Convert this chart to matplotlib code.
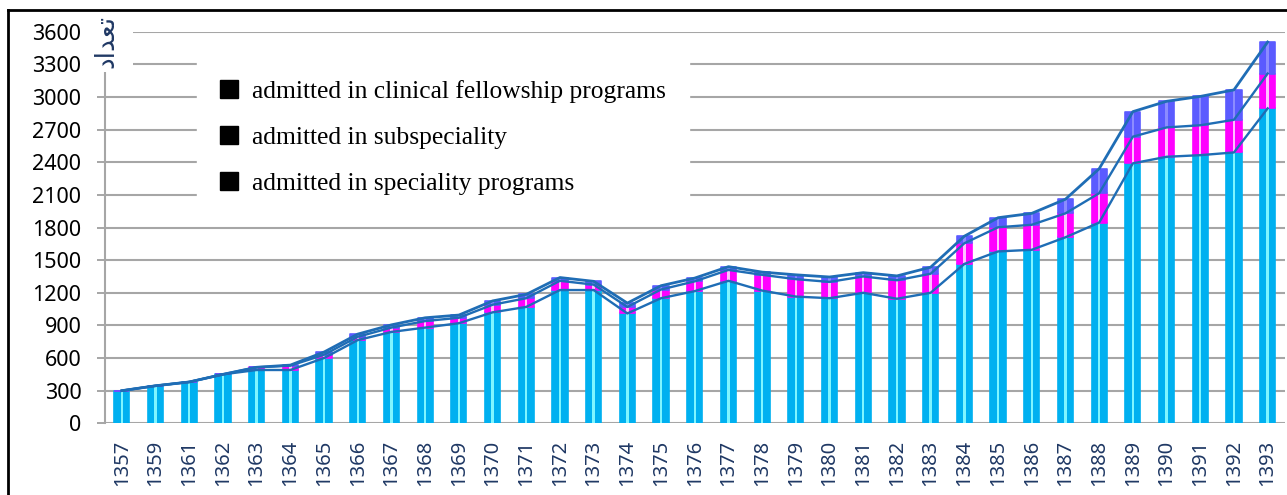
import numpy as np
import matplotlib.pyplot as plt
from matplotlib.patches import Patch, Rectangle
from matplotlib.lines import Line2D

# Data
years = [1357, 1359, 1361, 1362, 1363, 1364, 1365, 1366, 1367, 1368, 1369, 1370,
         1371, 1372, 1373, 1374, 1375, 1376, 1377, 1378, 1379, 1380, 1381, 1382,
         1383, 1384, 1385, 1386, 1387, 1388, 1389, 1390, 1391, 1392, 1393]
speciality = [300, 345, 380, 450, 490, 490, 600, 765, 840, 880, 920, 1020,
              1070, 1225, 1225, 1010, 1150, 1215, 1310, 1220, 1165, 1150, 1200, 1145,
              1200, 1465, 1580, 1595, 1710, 1845, 2390, 2450, 2465, 2490, 2895]
subspeciality = [0, 0, 0, 0, 25, 40, 30, 30, 40, 60, 50, 70,
                 80, 85, 50, 60, 80, 90, 100, 145, 160, 150, 150, 170,
                 175, 190, 222, 230, 220, 270, 245, 270, 275, 300, 320]
fellowship = [0, 0, 0, 0, 0, 5, 25, 25, 25, 30, 25, 35,
              35, 30, 30, 35, 35, 30, 30, 25, 40, 45, 35, 40,
              60, 65, 88, 105, 130, 225, 230, 240, 265, 275, 290]
legend_labels = ["admitted in clinical fellowship programs",
                 "admitted in subspeciality",
                 "admitted in speciality programs"]
yticks = list(range(0, 3601, 300))

c_spec, c_spec_hi = "#00B0F0", "#7FF5FF"
c_sub, c_sub_hi = "#FF00FF", "#FFC0FF"
c_fel, c_fel_hi = "#5B5BFF", "#8C8CFF"
c_line = "#1F6DB5"
c_grid = "#A6A6A6"

W, H = 1287, 495
fig = plt.figure(figsize=(W / 100, H / 100), dpi=100)
ax = fig.add_axes([105 / W, 1 - 423.3 / H, 1179.5 / W, 391.6 / H])

x = np.arange(len(years))
spec = np.array(speciality)
sub = np.array(subspeciality)
fel = np.array(fellowship)
bw = 0.45
sw = 0.07

segs = [(spec, np.zeros(len(x)), c_spec, c_spec_hi),
        (sub, spec, c_sub, c_sub_hi),
        (fel, spec + sub, c_fel, c_fel_hi)]
for vals, base, col, hi in segs:
    ax.bar(x, vals, bw, bottom=base, color=col, edgecolor=col, linewidth=1.2,
           joinstyle="round", zorder=2)
    inner = np.clip(vals - 12, 0, None)
    ax.bar(x, inner, sw, bottom=base + 6, color=hi, linewidth=0, zorder=3)

# cumulative lines over the bar tops
ax.plot(x, spec, color=c_line, lw=1.7, zorder=4)
ax.plot(x, spec + sub, color=c_line, lw=1.7, zorder=4)
ax.plot(x, spec + sub + fel, color=c_line, lw=2.0, zorder=4)

ax.set_xlim(-0.5, len(x) - 0.5)
ax.set_ylim(0, 3600)
ax.set_yticks(yticks)
ax.set_yticklabels([str(v) for v in yticks], fontfamily="Noto Sans", fontsize=15.5)
ax.set_xticks(x)
ax.set_xticklabels([str(y) for y in years], rotation=90, fontfamily="Noto Sans",
                   fontsize=14.5, color="#1F3864")
ax.tick_params(axis="x", length=0, pad=12)
ax.tick_params(axis="y", length=6, width=1.4, color=c_grid, pad=11)
ax.yaxis.grid(True, color=c_grid, lw=1.5, zorder=0)
ax.set_axisbelow(True)
for s in ["top", "right", "bottom"]:
    ax.spines[s].set_visible(False)
ax.spines["left"].set_color(c_grid)
ax.spines["left"].set_linewidth(1.5)

handles = [Patch(facecolor="black", edgecolor="black") for _ in legend_labels]
leg = ax.legend(handles, legend_labels, loc="upper left",
                bbox_to_anchor=(0.078, 0.935), frameon=True, fancybox=False,
                facecolor="white", edgecolor="white", framealpha=1,
                prop={"family": "Liberation Serif", "size": 18.4},
                handlelength=0.7, handleheight=0.7, handletextpad=0.55,
                labelspacing=0.9, borderpad=0.9, borderaxespad=0)
leg.set_zorder(6)

# white area behind the vertical axis title
fig.add_artist(Rectangle((93 / W, 1 - 72 / H), 40 / W, 60 / H, transform=fig.transFigure,
                         facecolor="white", edgecolor="none", zorder=5))
title = "\u062F\u0627\uFEAA\uFECC\uFE97"  # تعداد, shaped for left-to-right drawing
fig.text(106 / W, 1 - 41 / H, title, rotation=90, ha="center", va="center",
         fontsize=19, color="#1F3864", family="DejaVu Sans", zorder=7)

# outer frame
fig.add_artist(Line2D([8 / W, 8 / W], [0, 1 - 9.5 / H], color="black", lw=2,
                      transform=fig.transFigure, zorder=8))
fig.add_artist(Line2D([8 / W, 1], [1 - 9.5 / H, 1 - 9.5 / H], color="black", lw=2,
                      transform=fig.transFigure, zorder=8))

fig.savefig("out.png", dpi=100)
